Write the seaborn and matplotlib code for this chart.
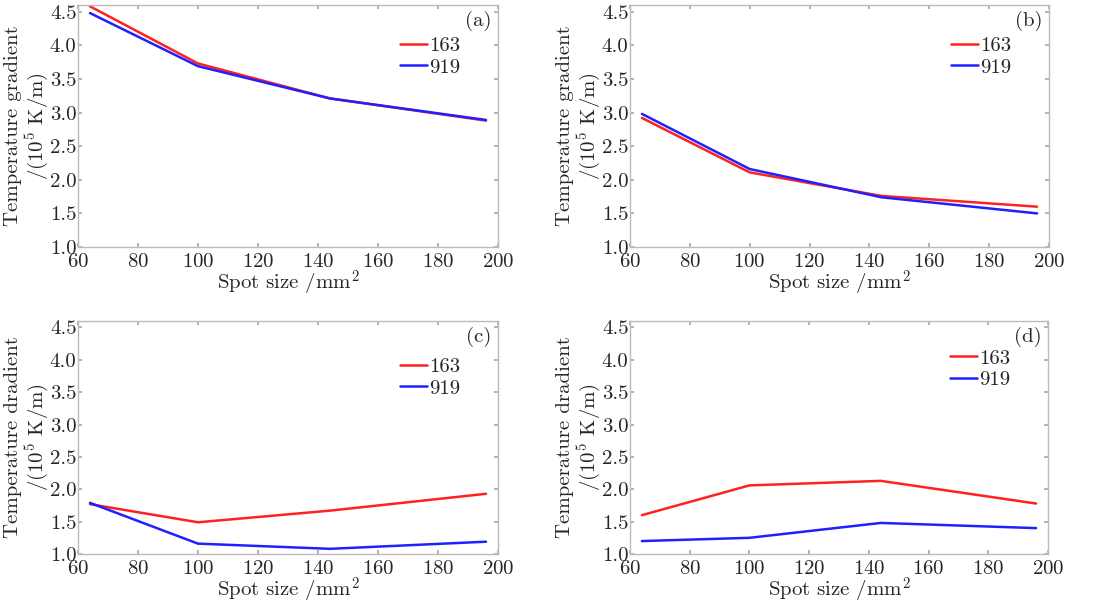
import matplotlib
matplotlib.use("Agg")
import matplotlib.pyplot as plt
import seaborn as sns
import pandas as pd

spot_size = [64, 100, 144, 196]
a_163 = [4.58, 3.73, 3.21, 2.88]
a_919 = [4.48, 3.69, 3.21, 2.89]
b_163 = [2.92, 2.11, 1.76, 1.60]
b_919 = [2.98, 2.16, 1.74, 1.50]
c_163 = [1.77, 1.49, 1.67, 1.93]
c_919 = [1.79, 1.16, 1.08, 1.19]
d_163 = [1.60, 2.06, 2.13, 1.78]
d_919 = [1.20, 1.25, 1.48, 1.40]
series_names = ["163", "919"]
panel_tags = ["(a)", "(b)", "(c)", "(d)"]
ylabel_top = "Temperature gradient\n/(10$^5$ K/m)"
ylabel_bottom = "Temperature dradient\n/(10$^5$ K/m)"
xlabel = "Spot size /mm$^2$"

sns.set_theme(style="white")
plt.rcParams['font.family'] = ['cmr10', 'DejaVu Serif']
plt.rcParams['mathtext.fontset'] = 'cm'
plt.rcParams['axes.formatter.use_mathtext'] = True

fig = plt.figure(figsize=(11.04, 6.07), dpi=100)
W, H = 1104, 607
boxes = [(78, 5, 498, 247), (630, 5, 1049, 247), (78, 321, 498, 554), (630, 321, 1048, 554)]
data = [(a_163, a_919), (b_163, b_919), (c_163, c_919), (d_163, d_919)]
ylabels = [ylabel_top, ylabel_top, ylabel_bottom, ylabel_bottom]
legend_y = [0.905, 0.905, 0.88, 0.915]

for i, (box, (s1, s2)) in enumerate(zip(boxes, data)):
    l, t, r, b = box
    ax = fig.add_axes([l / W, 1 - b / H, (r - l) / W, (b - t) / H])
    df = pd.DataFrame({
        "x": spot_size * 2,
        "y": list(s1) + list(s2),
        "series": [series_names[0]] * 4 + [series_names[1]] * 4,
    })
    sns.lineplot(data=df, x="x", y="y", hue="series", palette=["#ff2020", "#2020ff"],
                 linewidth=1.8, ax=ax, legend=True)
    ax.set_xlim(60, 200)
    ax.set_ylim(1.0, 4.6)
    ax.set_xticks([60, 80, 100, 120, 140, 160, 180, 200])
    ax.set_yticks([1.0, 1.5, 2.0, 2.5, 3.0, 3.5, 4.0, 4.5])
    ax.set_yticklabels(["1.0", "1.5", "2.0", "2.5", "3.0", "3.5", "4.0", "4.5"])
    ax.tick_params(direction="in", length=3, color="#aaaaaa", labelsize=15,
                   top=True, right=True, bottom=True, left=True)
    ax.tick_params(axis="x", pad=4)
    ax.tick_params(axis="y", pad=1)
    for sp in ax.spines.values():
        sp.set_color("#bbbbbb")
        sp.set_linewidth(1.0)
    ax.set_xlabel(xlabel, fontsize=15, labelpad=-1)
    ax.set_ylabel(ylabels[i], fontsize=15, labelpad=-1, linespacing=1.1)
    ax.text(0.985, 0.975, panel_tags[i], transform=ax.transAxes, ha="right", va="top", fontsize=15)
    leg = ax.legend(loc="upper right", bbox_to_anchor=(0.93, legend_y[i]), frameon=False,
                    fontsize=15, handlelength=1.3, handletextpad=0.1, labelspacing=0.15,
                    borderaxespad=0)
    ax.grid(False)

fig.savefig("out.png", dpi=100, facecolor="white")
